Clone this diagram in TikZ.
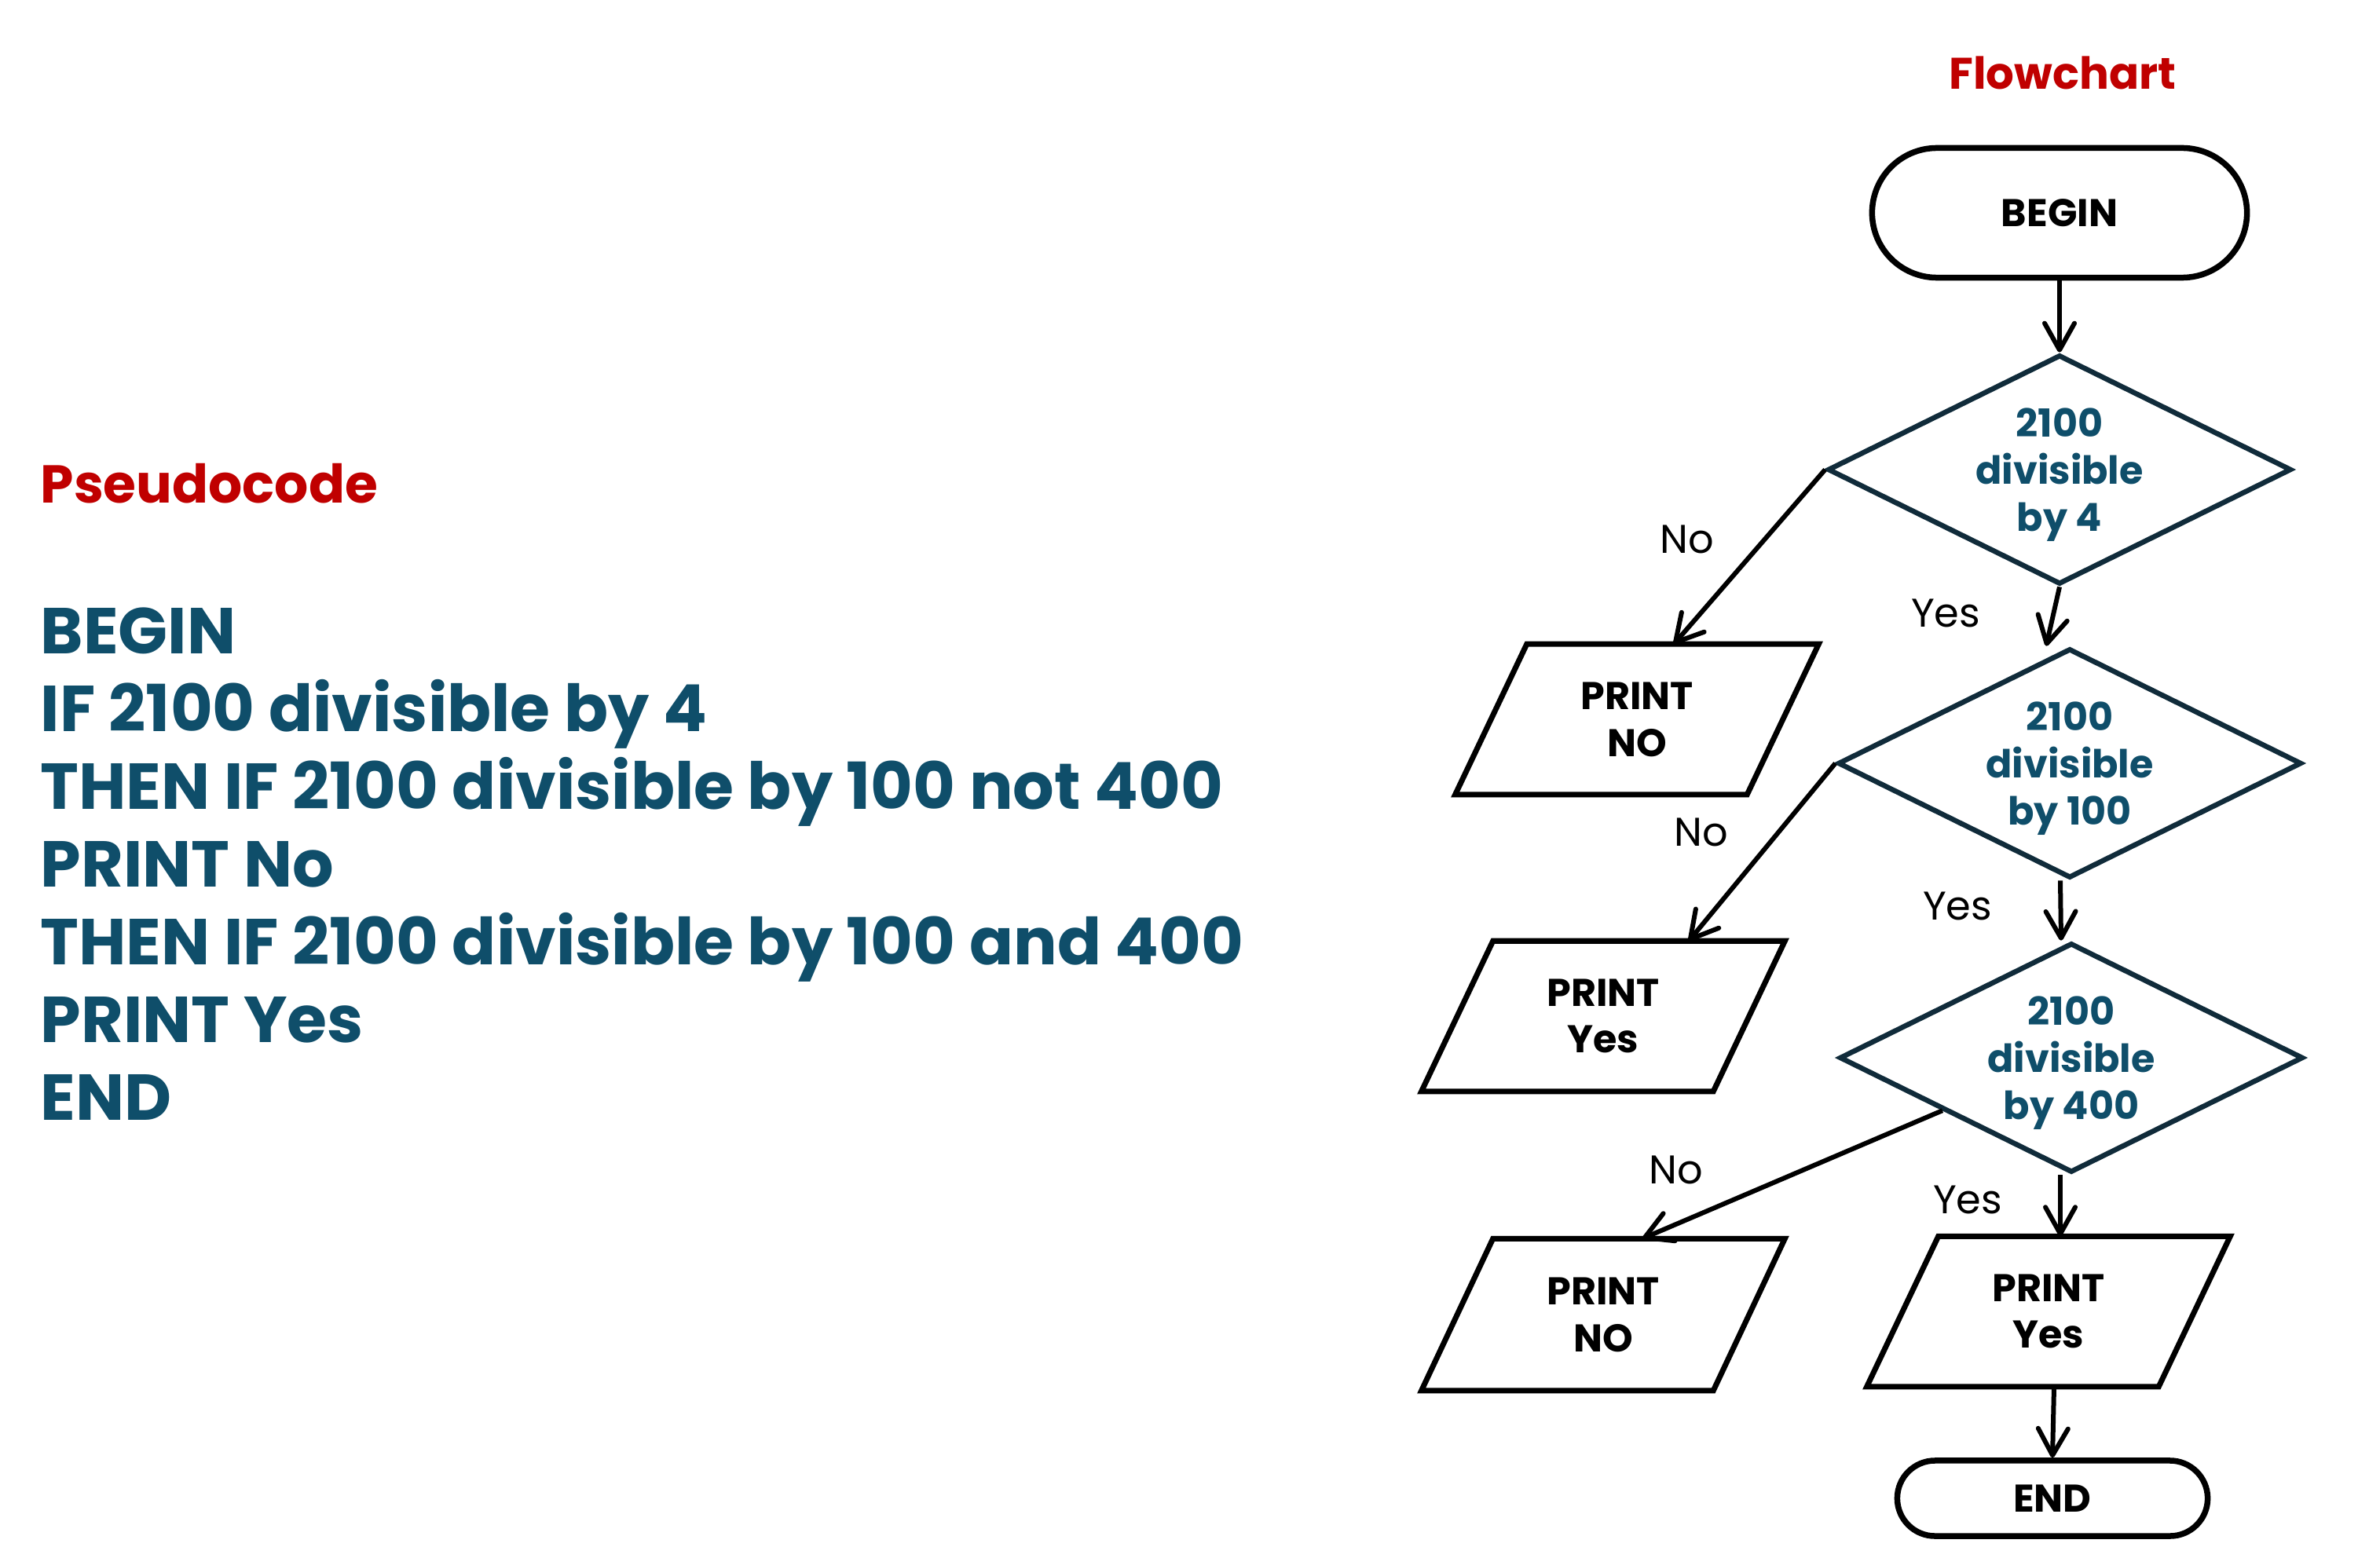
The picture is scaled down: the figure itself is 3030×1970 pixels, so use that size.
\documentclass[tikz,border=0pt]{standalone}
\usepackage{fontspec}
\setmainfont{Poppins}
\usetikzlibrary{arrows.meta,shapes.geometric,calc}
\definecolor{pcblue}{HTML}{0F4E6A}
\definecolor{pcred}{HTML}{C00000}
\definecolor{dline}{HTML}{102B3A}
\begin{document}
\begin{tikzpicture}[x=0.01cm,y=-0.01cm,
  nodefont/.style={font=\fontsize{14}{17}\selectfont\bfseries},
  term/.style={draw=black, line width=0.075cm, nodefont, align=center, inner sep=0pt},
  dec/.style={diamond, draw=dline, line width=0.065cm, aspect=2, inner sep=0pt, text depth=0pt,
    nodefont, text=pcblue, align=center, minimum width=5.9cm, minimum height=2.92cm},
  iotext/.style={inner sep=0pt, minimum width=3.7cm, minimum height=1.9cm, nodefont, align=center},
  para/.style={draw=black, line width=0.07cm, line join=miter},
  arr/.style={-{Straight Barb[length=0.34cm,width=0.38cm,round]}, line width=0.06cm, black},
  lab/.style={font=\fontsize{14.5}{17}\selectfont, inner sep=0pt},
  pcline/.style={anchor=base west, inner sep=0pt, text=pcblue, font=\fontsize{23.5}{28}\selectfont\bfseries},
  title/.style={inner sep=0pt, text=pcred, font=\bfseries}
]
\useasboundingbox (0,0) rectangle (3030,1970);

% Titles
\node[title, font=\fontsize{16}{19}\selectfont\bfseries] (ftitle) at (2626,93) {Flowchart};
\node[title, anchor=base west, font=\fontsize{19.3}{22}\selectfont\bfseries] (ptitle) at (51,640) {Pseudocode};

% Pseudocode
\node[pcline] (pc1) at (51,832) {BEGIN};
\node[pcline] (pc2) at (51,931) {IF 2100 divisible by 4};
\node[pcline] (pc3) at (51,1030) {THEN IF 2100 divisible by 100 not 400};
\node[pcline] (pc4) at (51,1129) {PRINT No};
\node[pcline] (pc5) at (51,1228) {THEN IF 2100 divisible by 100 and 400};
\node[pcline] (pc6) at (51,1327) {PRINT Yes};
\node[pcline] (pc7) at (51,1426) {END};

% Flowchart nodes
\node[term, minimum width=4.77cm, minimum height=1.65cm, rounded corners=0.825cm] (begin) at (2622,271) {BEGIN};
\node[dec] (d1) at (2622,598) {2100\\divisible\\by 4};
\node[dec] (d2) at (2635,972) {2100\\divisible\\by 100};
\node[dec] (d3) at (2637,1347) {2100\\divisible\\by 400};

\node[iotext] (p1) at (2084,916) {PRINT\\NO};
\node[iotext] (p2) at (2041,1294) {PRINT\\Yes};
\node[iotext, minimum height=1.92cm] (p3) at (2041,1674) {PRINT\\NO};
\node[iotext] (p4) at (2608,1670) {PRINT\\Yes};
\foreach \p in {p1,p2,p3,p4}{
  \draw[para] ([xshift=0.455cm]\p.north west) -- ([xshift=0.455cm]\p.north east)
    -- ([xshift=-0.455cm]\p.south east) -- ([xshift=-0.455cm]\p.south west) -- cycle;
}
\node[term, minimum width=3.95cm, minimum height=0.96cm, rounded corners=0.48cm] (end) at (2613,1908) {END};

% Connectors
\draw[arr] (begin.south) -- (d1.north);
\draw[arr] (d1.south) -- ($(d2.north)+(-30,0)$);
\draw[arr] (d1.west) -- ($(p1.north)+(47,0)$);
\draw[arr] ($(d2.south)+(-12,0)$) -- ($(d3.north)+(-13,0)$);
\draw[arr] (d2.west) -- ($(p2.north)+(109,0)$);
\draw[arr] ($(d3.west)!0.45!(d3.south)$) -- ($(p3.north)+(50,0)$);
\draw[arr] ($(d3.south)+(-14,0)$) -- ($(p4.north)+(15,0)$);
\draw[arr] ($(p4.south)+(7,0)$) -- (end.north);

% Labels
\node[lab] (l1) at (2148,687) {No};
\node[lab] (l2) at (2477,781) {Yes};
\node[lab] (l3) at (2166,1060) {No};
\node[lab] (l4) at (2492,1154) {Yes};
\node[lab] (l5) at (2134,1490) {No};
\node[lab] (l6) at (2505,1528) {Yes};
\end{tikzpicture}
\end{document}
